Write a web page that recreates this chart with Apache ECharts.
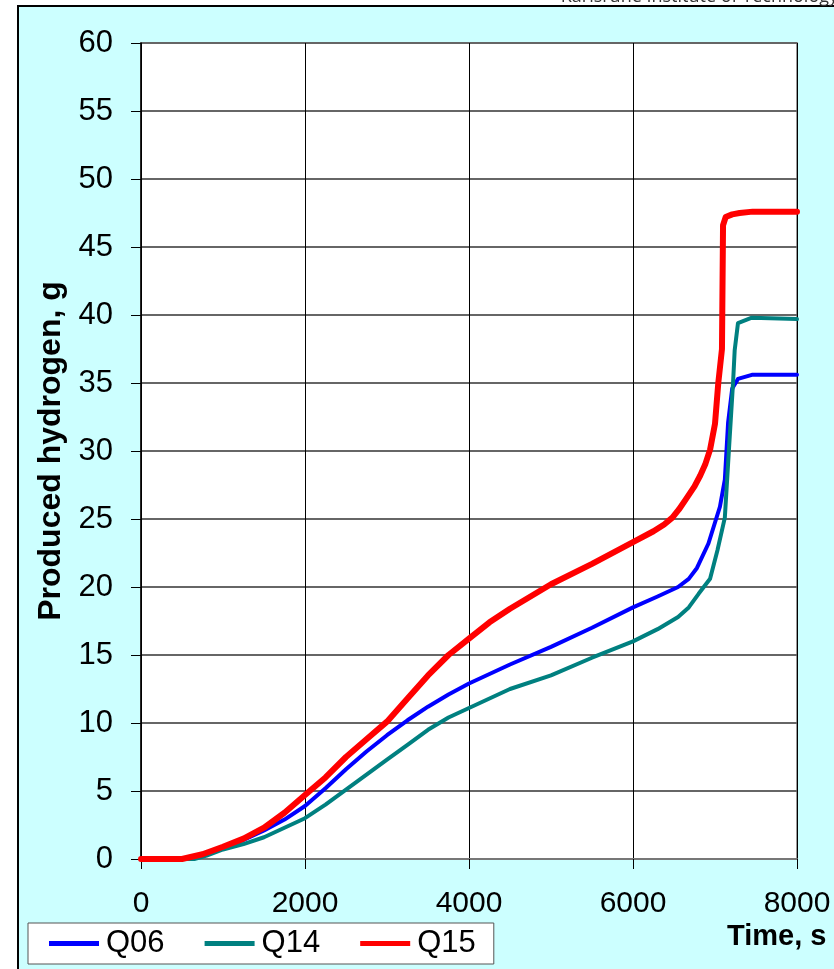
<!DOCTYPE html>
<html>
<head>
<meta charset="utf-8">
<title>Produced hydrogen</title>
<script src="https://cdn.jsdelivr.net/npm/echarts@6/dist/echarts.min.js"></script>
<style>
  html, body { margin: 0; padding: 0; background: #fff; }
  #chart { width: 834px; height: 969px; }
</style>
</head>
<body>
<div id="chart"></div>
<script>
// Time axis (s) and produced hydrogen (g) for each test
const q06Time = [0, 550, 800, 1000, 1250, 1500, 1750, 2000, 2250, 2500, 2750, 3000, 3250, 3500, 3750, 4000, 4500, 5000, 5500, 6000, 6300, 6550, 6680, 6780, 6920, 7060, 7120, 7160, 7210, 7280, 7450, 8000];
const q06Vals = [0, 0, 0.35, 0.85, 1.4, 2.1, 2.9, 3.9, 5.2, 6.6, 7.9, 9.1, 10.2, 11.2, 12.1, 12.9, 14.3, 15.6, 17.0, 18.5, 19.3, 20.0, 20.6, 21.4, 23.2, 25.9, 27.9, 32.1, 34.6, 35.3, 35.6, 35.6];

const q14Time = [0, 650, 800, 1000, 1250, 1500, 1750, 2000, 2250, 2500, 2750, 3000, 3250, 3500, 3750, 4000, 4500, 5000, 5500, 6000, 6300, 6550, 6680, 6800, 6940, 7030, 7120, 7170, 7220, 7240, 7280, 7450, 8000];
const q14Vals = [0, 0, 0.25, 0.7, 1.1, 1.6, 2.3, 3.0, 4.0, 5.1, 6.2, 7.3, 8.4, 9.5, 10.4, 11.1, 12.5, 13.5, 14.8, 16.0, 16.9, 17.8, 18.5, 19.5, 20.6, 22.7, 25.1, 30.1, 35.0, 37.4, 39.4, 39.8, 39.7];

const q15Time = [0, 500, 750, 1000, 1250, 1500, 1750, 2000, 2250, 2500, 2750, 3000, 3250, 3500, 3750, 4000, 4250, 4500, 5000, 5500, 6000, 6250, 6380, 6480, 6560, 6650, 6750, 6820, 6880, 6940, 7000, 7040, 7085, 7098, 7130, 7210, 7300, 7460, 8000];
const q15Vals = [0, 0, 0.35, 0.9, 1.5, 2.3, 3.4, 4.7, 6.0, 7.5, 8.8, 10.1, 11.8, 13.5, 15.0, 16.2, 17.4, 18.4, 20.2, 21.7, 23.3, 24.1, 24.6, 25.1, 25.7, 26.5, 27.4, 28.2, 29.0, 30.1, 32.0, 35.0, 37.5, 46.6, 47.2, 47.4, 47.5, 47.6, 47.6];

const seriesNames = ['Q06', 'Q14', 'Q15'];
const seriesColors = ['#0000ff', '#008080', '#ff0000'];
const seriesWidths = [4, 4, 6];

const xTitle = 'Time, s';
const yTitle = 'Produced hydrogen, g';
const headerText = 'Karlsruhe Institute of Technology';

const pairs = (t, v) => t.map((x, i) => [x, v[i]]);
const seriesData = [pairs(q06Time, q06Vals), pairs(q14Time, q14Vals), pairs(q15Time, q15Vals)];

const FONT = 'Arial, "Liberation Sans", sans-serif';

const chart = echarts.init(document.getElementById('chart'), null, { renderer: 'canvas' });

chart.setOption({
  backgroundColor: '#ffffff',
  animation: false,
  textStyle: { fontFamily: FONT },
  graphic: [
    {
      type: 'rect', z: -10, silent: true,
      shape: { x: 18, y: 6, width: 830, height: 980 },
      style: { fill: '#ccffff', stroke: '#000', lineWidth: 2 }
    },
    {
      type: 'text', z: -5, silent: true,
      style: {
        x: 838, y: -3, text: headerText, align: 'right', verticalAlign: 'middle',
        font: '18px "Open Sans", sans-serif', fill: '#333'
      }
    },
    {
      type: 'text', silent: true,
      style: {
        x: 727, y: 937, text: xTitle, align: 'left', verticalAlign: 'middle',
        font: 'bold 29px ' + FONT, fill: '#000'
      }
    }
  ],
  grid: {
    left: 141, top: 43, width: 656, height: 816,
    show: true, backgroundColor: '#ffffff', borderColor: '#999', borderWidth: 2
  },
  legend: {
    left: 28, top: 923,
    padding: [5, 18, 5, 21],
    itemGap: 40, itemWidth: 50, itemHeight: 5,
    icon: 'rect',
    backgroundColor: '#ffffff', borderColor: '#555', borderWidth: 1, borderRadius: 0,
    textStyle: { fontSize: 31, color: '#000', fontFamily: FONT, padding: [0, 0, 0, 2] },
    data: seriesNames
  },
  xAxis: {
    type: 'value', min: 0, max: 8000, interval: 2000,
    axisLine: { show: true, lineStyle: { color: '#777', width: 2 } },
    axisTick: { show: true, inside: false, length: 10, lineStyle: { color: '#000', width: 1 } },
    axisLabel: { fontSize: 30, color: '#000', margin: 30, fontFamily: FONT, formatter: v => String(v) },
    splitLine: { show: true, lineStyle: { color: '#000', width: 1 } }
  },
  yAxis: {
    type: 'value', min: 0, max: 60, interval: 5,
    name: yTitle, nameLocation: 'middle', nameGap: 72,
    nameTextStyle: { fontSize: 32, fontWeight: 'bold', color: '#000', fontFamily: FONT },
    axisLine: { show: true, lineStyle: { color: '#000', width: 1.5 } },
    axisTick: { show: true, inside: false, length: 10, lineStyle: { color: '#000', width: 1 } },
    axisLabel: { fontSize: 31, color: '#000', margin: 28, fontFamily: FONT },
    splitLine: { show: true, lineStyle: { color: '#666', width: 2 } }
  },
  series: seriesNames.map((n, i) => ({
    name: n, type: 'line', data: seriesData[i],
    showSymbol: false, symbol: 'none', smooth: false,
    color: seriesColors[i],
    itemStyle: { color: seriesColors[i] },
    lineStyle: { color: seriesColors[i], width: seriesWidths[i], cap: 'round', join: 'round' },
    z: 3 + i
  }))
});
</script>
</body>
</html>
